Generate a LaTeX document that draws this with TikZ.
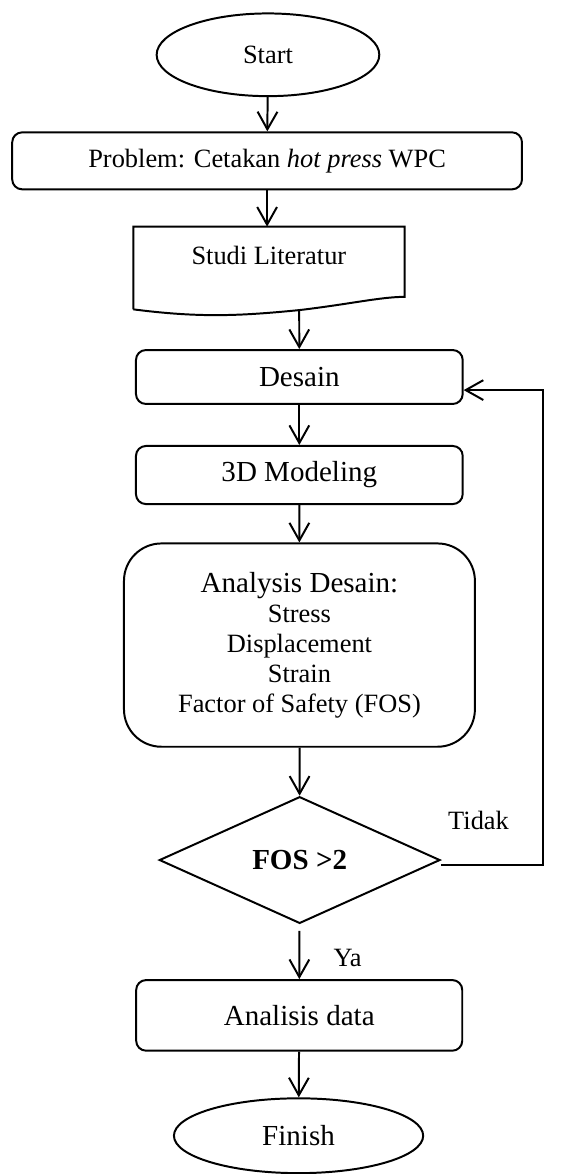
\documentclass[tikz,border=0pt]{standalone}
\usepackage{fontspec}
\setmainfont{Liberation Serif}
\usetikzlibrary{arrows.meta, shapes.geometric}

\begin{document}
\begin{tikzpicture}[x=1pt, y=-1pt, line width=0.9pt,
    big/.style={font=\fontsize{13.2}{15}\selectfont},
    small/.style={font=\fontsize{12}{13.6}\selectfont},
    term/.style={draw, ellipse, inner sep=0pt},
    proc/.style={draw, rounded corners=4.5pt, inner sep=0pt},
    cond/.style={draw, diamond, inner sep=0pt},
    arr/.style={-{Straight Barb[length=8pt, width=9pt, line width=0.9pt]}}]
    \useasboundingbox (0,0) rectangle (265.4,533.6);

    % flow boxes
    \node[term, small, minimum width=101.2pt, minimum height=37.6pt] (start) at (121.8,24.9) {Start};
    \node[proc, small, minimum width=231.7pt, minimum height=25.9pt] (problem) at (121.4,73.1)
        {Problem: Cetakan \textit{hot press} WPC};

    \coordinate (lit nw) at (60.6,103.0);
    \coordinate (lit ne) at (183.9,103.0);
    \coordinate (lit se) at (183.9,134.9);
    \coordinate (lit sw) at (60.6,140.6);
    \coordinate (lit out) at (136.0,141.0);
    \draw (lit sw) -- (lit nw) -- (lit ne) -- (lit se)
        .. controls (172.7,135.0) and (159.1,138.2) .. (136.4,140.9)
        .. controls (109.1,143.6) and (90.9,144.5) .. (lit sw);
    \node[small] (studi) at (122.2,115.9) {Studi Literatur};

    \node[proc, big, minimum width=148.5pt, minimum height=24.5pt] (desain) at (136.05,171.35) {Desain};
    \node[proc, big, minimum width=148.5pt, minimum height=26.4pt] (model) at (136.05,215.9) {3D Modeling};
    \node[proc, small, rounded corners=17pt, align=center, minimum width=159.5pt, minimum height=92.4pt]
        (analysis) at (136.1,293.2)
        {{\fontsize{13.2}{13.6}\selectfont Analysis Desain:}\\Stress\\Displacement\\Strain\\Factor of Safety (FOS)};
    \node[cond, big, minimum width=127.6pt, minimum height=57.6pt] (fos) at (136.2,390.9) {\textbf{FOS >2}};
    \node[proc, big, minimum width=148.2pt, minimum height=32.1pt] (data) at (136.0,461.5) {Analisis data};
    \node[term, big, minimum width=113.3pt, minimum height=34.0pt] (finish) at (135.7,516.2) {Finish};

    \node[small] (tidak) at (217.5,372.7) {Tidak};
    \node[small] (ya) at (158.0,435.4) {Ya};

    % arrows
    \draw[arr] (start) -- (problem);
    \draw[arr] (problem) -- (problem.south |- lit nw);
    \draw[arr] (lit out) -- (desain);
    \draw[arr] (desain) -- (model);
    \draw[arr] (model) -- (analysis);
    \draw[arr] (analysis) -- (fos);
    \draw[arr, shorten <=3pt] (fos) -- (data);
    \draw[arr] (data) -- (finish);

    \coordinate (loop) at (246.9,177.3);
    \draw[arr] ([yshift=-2.3pt]fos.east) -| (loop) -- (loop -| desain.east);
\end{tikzpicture}
\end{document}
